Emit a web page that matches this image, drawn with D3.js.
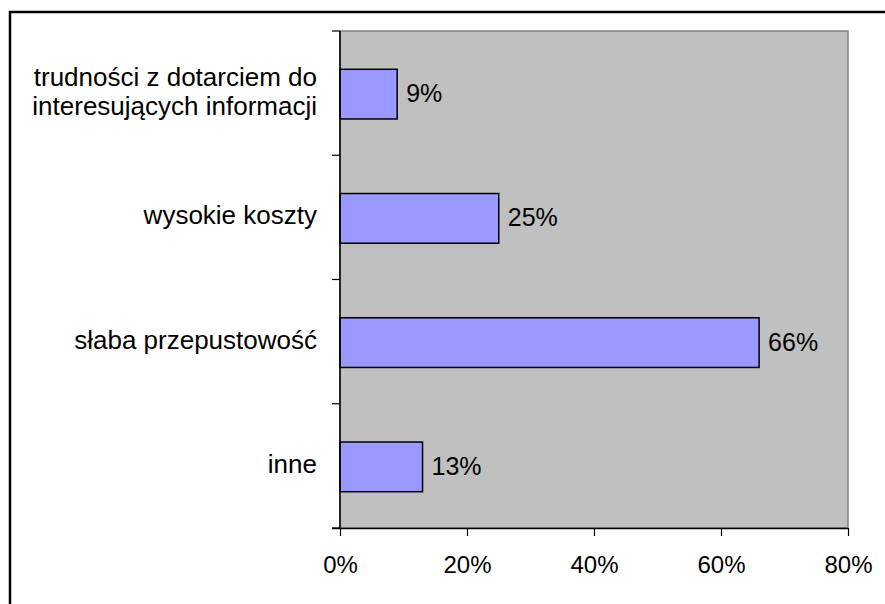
<!DOCTYPE html>
<html>
<meta charset="utf-8">

<head>
    <script src="https://d3js.org/d3.v7.min.js"></script>
    <style>
        body {
            margin: 0;
            background: #fff;
        }

        * {
            font-family: Arial, "Liberation Sans", sans-serif
        }

        .catLabel {
            font-size: 26px;
            fill: #000;
        }

        .valLabel {
            font-size: 25px;
            fill: #000;
        }
    </style>
</head>

<body>
    <svg id="chart" width="885" height="604"></svg>

    <script>
        // data, top to bottom
        const categories = [
            ['trudności z dotarciem do', 'interesujących informacji'],
            ['wysokie koszty'],
            ['słaba przepustowość'],
            ['inne']
        ];
        const values = [9, 25, 66, 13];
        const xTicks = [0, 20, 40, 60, 80];

        const svg = d3.select('svg#chart');
        const margin = { top: 31, right: 37, bottom: 76, left: 340 };
        const chartWidth = 885 - margin.left - margin.right;
        const chartHeight = 604 - margin.top - margin.bottom;

        // outer chart border (runs off the right and bottom edge)
        svg.append('rect')
            .attr('x', 10).attr('y', 12)
            .attr('width', 900).attr('height', 620)
            .attr('fill', 'white')
            .attr('stroke', 'black')
            .attr('stroke-width', 2.5);

        const chartArea = svg.append('g')
            .attr('transform', `translate(${margin.left},${margin.top})`);

        const xScale = d3.scaleLinear().domain([0, 80]).range([0, chartWidth]);
        const yScale = d3.scaleBand().domain(d3.range(categories.length))
            .range([0, chartHeight]).paddingInner(0.6).paddingOuter(0.3);
        const bandStep = yScale.step();

        // plot background
        chartArea.append('rect')
            .attr('width', chartWidth).attr('height', chartHeight)
            .attr('fill', '#c0c0c0')
            .attr('stroke', '#808080')
            .attr('stroke-width', 1.5);

        // bars
        chartArea.selectAll('rect.bar').data(values)
            .join('rect')
            .attr('class', 'bar')
            .attr('x', 0)
            .attr('y', (d, i) => yScale(i) + 1)
            .attr('width', d => xScale(d))
            .attr('height', yScale.bandwidth())
            .attr('fill', '#9999ff')
            .attr('stroke', '#000')
            .attr('stroke-width', 1.5);

        // value labels
        chartArea.selectAll('text.valLabel').data(values)
            .join('text')
            .attr('class', 'valLabel')
            .attr('x', d => xScale(d) + 9)
            .attr('y', (d, i) => yScale(i) + yScale.bandwidth() / 2 + 9)
            .text(d => d + '%');

        // bottom axis
        const bottomAxis = d3.axisBottom(xScale).tickValues(xTicks)
            .tickSize(8).tickFormat(d => d + '%');
        const xAxisG = chartArea.append('g')
            .attr('transform', `translate(0,${chartHeight})`)
            .call(bottomAxis);
        xAxisG.select('.domain').attr('d', `M-8,0.5H${chartWidth}`).attr('stroke', '#000').attr('stroke-width', 1.5);
        xAxisG.selectAll('.tick line').attr('stroke', '#000').attr('stroke-width', 1.2);
        xAxisG.selectAll('.tick text')
            .attr('y', 45).attr('dy', null)
            .style('font-size', '24px')
            .attr('fill', '#000');

        // left axis: line plus ticks at band boundaries
        chartArea.append('line')
            .attr('x1', 0).attr('x2', 0)
            .attr('y1', 0).attr('y2', chartHeight)
            .attr('stroke', '#000').attr('stroke-width', 1.5);
        chartArea.selectAll('line.ytick').data(d3.range(categories.length + 1))
            .join('line')
            .attr('class', 'ytick')
            .attr('x1', -8).attr('x2', 0)
            .attr('y1', d => d * bandStep).attr('y2', d => d * bandStep)
            .attr('stroke', '#000').attr('stroke-width', 1.2);

        // category labels
        const lineHeight = 29;
        chartArea.selectAll('text.catLabel').data(categories)
            .join('text')
            .attr('class', 'catLabel')
            .attr('text-anchor', 'end')
            .each(function (d, i) {
                const cy = yScale(i) + yScale.bandwidth() / 2;
                const first = cy + 7 - (d.length - 1) * lineHeight / 2;
                d3.select(this).selectAll('tspan').data(d)
                    .join('tspan')
                    .attr('x', -23)
                    .attr('y', (t, j) => first + j * lineHeight)
                    .text(t => t);
            });
    </script>
</body>

</html>
